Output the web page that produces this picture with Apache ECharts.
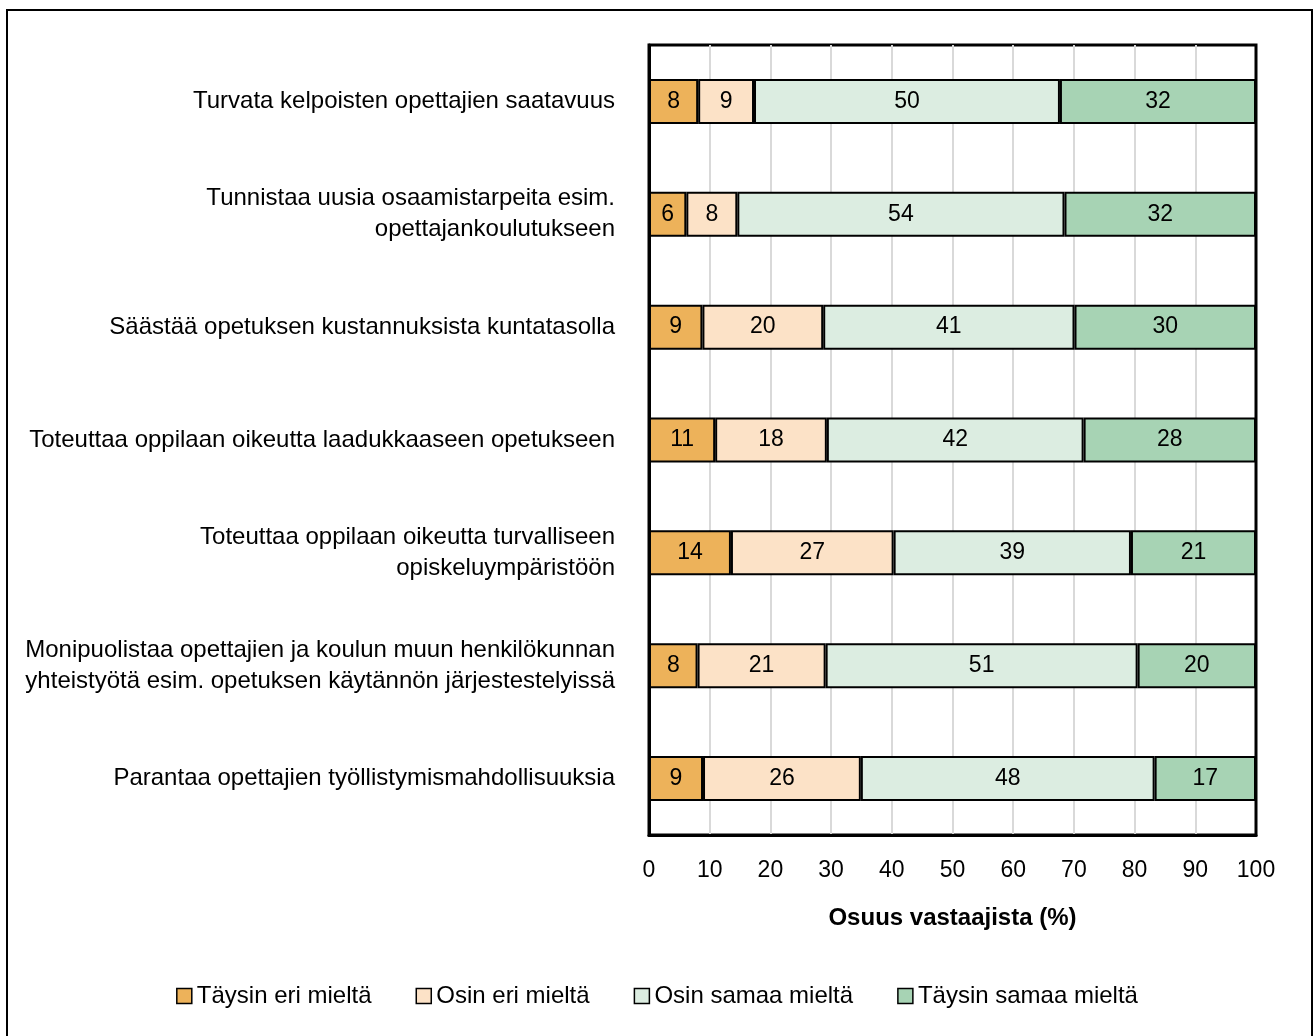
<!DOCTYPE html>
<html>
<head>
<meta charset="utf-8">
<script src="https://cdn.jsdelivr.net/npm/echarts@6/dist/echarts.min.js"></script>
<style>
  html, body { margin: 0; padding: 0; background: #fff; }
  #chart { width: 1314px; height: 1036px; }
</style>
</head>
<body>
<div id="chart"></div>
<script>
var categories = [
  'Turvata kelpoisten opettajien saatavuus',
  'Tunnistaa uusia osaamistarpeita esim.\nopettajankoulutukseen',
  'Säästää opetuksen kustannuksista kuntatasolla',
  'Toteuttaa oppilaan oikeutta laadukkaaseen opetukseen',
  'Toteuttaa oppilaan oikeutta turvalliseen\nopiskeluympäristöön',
  'Monipuolistaa opettajien ja koulun muun henkilökunnan\nyhteistyötä esim. opetuksen käytännön järjestestelyissä',
  'Parantaa opettajien työllistymismahdollisuuksia'
];
var seriesNames = ['Täysin eri mieltä', 'Osin eri mieltä', 'Osin samaa mieltä', 'Täysin samaa mieltä'];
var taysinEri = [8.1, 6.15, 8.8, 10.9, 13.5, 8.0, 8.9];
var osinEri = [9.2, 8.4, 19.9, 18.4, 26.8, 21.1, 26.0];
var osinSamaa = [50.4, 53.9, 41.4, 42.3, 39.1, 51.4, 48.4];
var taysinSamaa = [32.3, 31.55, 29.9, 28.4, 20.6, 19.5, 16.7];
var xTicks = { min: 0, max: 100, interval: 10 };

var colors = ['#EDB25A', '#FCE2C7', '#DCEDE1', '#A7D3B4'];
var font = '"Liberation Sans", Arial, sans-serif';

var chart = echarts.init(document.getElementById('chart'));

function makeSeries(name, data) {
  return {
    name: name,
    type: 'bar',
    stack: 'total',
    barWidth: 45,
    data: data,
    itemStyle: { borderColor: '#000', borderWidth: 2 },
    label: {
      show: true,
      position: 'inside',
      color: '#000',
      fontSize: 23,
      fontFamily: font,
      formatter: function (p) { return Math.round(p.value); }
    },
    emphasis: { disabled: true }
  };
}

var option = {
  animation: false,
  color: colors,
  grid: {
    left: 649, right: 58, top: 45, bottom: 201,
    outerBoundsMode: 'none',
    containLabel: false,
    show: true, borderColor: '#000', borderWidth: 3
  },
  graphic: [{
    type: 'rect',
    shape: { x: 7, y: 10, width: 1305, height: 1040 },
    style: { fill: 'none', stroke: '#000', lineWidth: 2 },
    silent: true
  }],
  legend: {
    bottom: 23,
    left: 'center',
    itemWidth: 15,
    itemHeight: 15,
    itemGap: 44,
    icon: 'rect',
    itemStyle: { borderColor: '#000', borderWidth: 1.5 },
    textStyle: { fontSize: 24, fontFamily: font, color: '#000' },
    data: seriesNames
  },
  xAxis: {
    type: 'value',
    min: xTicks.min, max: xTicks.max, interval: xTicks.interval,
    axisLine: { show: true, onZero: false, lineStyle: { color: '#000', width: 3 } },
    axisTick: { show: false },
    axisLabel: { fontSize: 23, fontFamily: font, color: '#000', margin: 24 },
    splitLine: { showMinLine: false, showMaxLine: false, lineStyle: { color: '#d9d9d9', width: 2 } },
    name: 'Osuus vastaajista (%)',
    nameLocation: 'middle',
    nameGap: 71,
    nameTextStyle: { fontSize: 24, fontWeight: 'bold', fontFamily: font, color: '#000' }
  },
  yAxis: {
    type: 'category',
    inverse: true,
    data: categories,
    axisLine: { show: true, lineStyle: { color: '#000', width: 3 } },
    axisTick: { show: false },
    axisLabel: {
      fontSize: 24, fontFamily: font, color: '#000', margin: 34,
      align: 'right', lineHeight: 31
    }
  },
  series: [
    makeSeries(seriesNames[0], taysinEri),
    makeSeries(seriesNames[1], osinEri),
    makeSeries(seriesNames[2], osinSamaa),
    makeSeries(seriesNames[3], taysinSamaa)
  ]
};

chart.setOption(option);
</script>
</body>
</html>
